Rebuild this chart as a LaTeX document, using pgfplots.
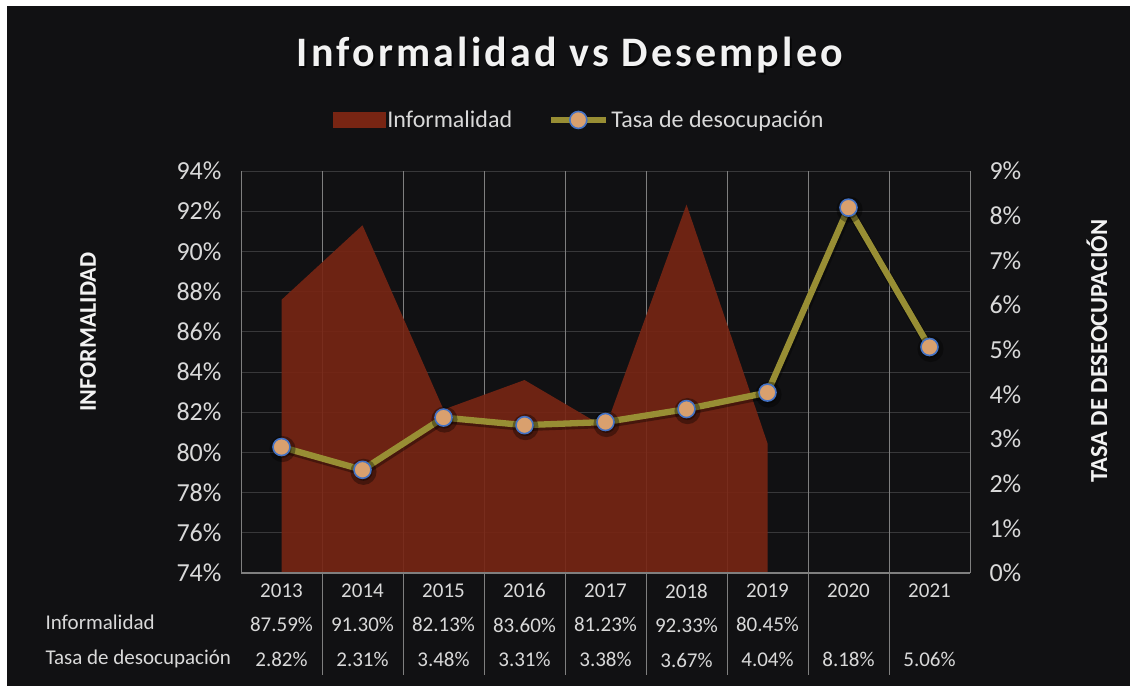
\documentclass[border=0pt]{standalone}
\usepackage{pgfplots}
\pgfplotsset{compat=1.18}
\usepackage{fontspec}
\setmainfont{Carlito}
\newfontfamily\titlefont[LetterSpace=7.5]{Carlito}
\definecolor{bg}{HTML}{111113}
\definecolor{areac}{HTML}{782513}
\definecolor{linec}{HTML}{988E34}
\definecolor{markf}{HTML}{D9A06E}
\definecolor{markd}{HTML}{4472C4}
\definecolor{gridh}{HTML}{38383A}
\definecolor{gridv}{HTML}{7F7F7F}
\definecolor{tickc}{HTML}{D9D9D9}
\definecolor{titlec}{HTML}{F2F2F2}
\pgfplotsset{
  marklegend/.style={legend image code/.code={%
    \draw[##1, mark=none] (0pt,0pt) -- (55pt,0pt);
    \draw[##1] plot coordinates {(27.5pt,0pt)};}},
  arealegend/.style={legend image code/.code={%
    \fill[areac] (0pt,-7.5pt) rectangle (52pt,7.5pt);}},
}
\begin{document}
\begin{tikzpicture}[x=1pt,y=1pt]
\fill[white] (0,0) rectangle (1130,686);
\fill[bg] (7,0) rectangle (1130,680);
\useasboundingbox (0,0) rectangle (1130,686);
\node[anchor=base, text=black, opacity=0.6, font=\titlefont\bfseries\fontsize{42}{50}\selectfont] at (571.5,617.5) {Informalidad vs Desempleo};
\node[anchor=base, text=titlec, font=\titlefont\bfseries\fontsize{42}{50}\selectfont] at (570,619) {Informalidad vs Desempleo};
\begin{axis}[
  at={(241pt,113pt)}, anchor=south west,
  scale only axis, width=729pt, height=402pt,
  xmin=-0.5, xmax=8.5, ymin=74, ymax=94,
  ytick={74,76,...,94},
  yticklabel={\pgfmathprintnumber{\tick}\%},
  /pgf/number format/assume math mode=true,
  xtick={0,...,8},
  xticklabels={{2013\\87.59\%\\2.82\%},{2014\\91.30\%\\2.31\%},{2015\\82.13\%\\3.48\%},{2016\\83.60\%\\3.31\%},{2017\\81.23\%\\3.38\%},{2018\\92.33\%\\3.67\%},{2019\\80.45\%\\4.04\%},{2020\\\strut\\8.18\%},{2021\\\strut\\5.06\%}},
  axis line style={draw=none},
  major tick length=0pt,
  ymajorgrids, grid style={color=gridh, line width=0.8pt},
  tick label style={text=tickc},
  yticklabel style={font=\fontsize{26}{30}\selectfont, xshift=-16pt},
  xticklabel style={font=\fontsize{21}{34.5}\selectfont, align=center, anchor=north, inner sep=0pt, yshift=-10.5pt},
  ylabel={INFORMALIDAD},
  ylabel style={font=\bfseries\fontsize{24}{28}\selectfont, text=titlec},
  every axis y label/.append style={at={(rel axis cs:-0.2099,0.5995)}, anchor=center},
]
\draw[gridv, line width=1pt] (axis cs:0.5,74) -- (axis cs:0.5,94);
\draw[gridv, line width=1pt] (axis cs:1.5,74) -- (axis cs:1.5,94);
\draw[gridv, line width=1pt] (axis cs:2.5,74) -- (axis cs:2.5,94);
\draw[gridv, line width=1pt] (axis cs:3.5,74) -- (axis cs:3.5,94);
\draw[gridv, line width=1pt] (axis cs:4.5,74) -- (axis cs:4.5,94);
\draw[gridv, line width=1pt] (axis cs:5.5,74) -- (axis cs:5.5,94);
\draw[gridv, line width=1pt] (axis cs:6.5,74) -- (axis cs:6.5,94);
\draw[gridv, line width=1pt] (axis cs:7.5,74) -- (axis cs:7.5,94);
\addplot[fill=areac, fill opacity=0.9, draw=none] coordinates {
(0,87.59) (1,91.30) (2,82.13) (3,83.60) (4,81.23) (5,92.33) (6,80.45)
} \closedcycle;
\end{axis}
\begin{axis}[
  at={(241pt,113pt)}, anchor=south west,
  scale only axis, width=729pt, height=402pt,
  xmin=-0.5, xmax=8.5, ymin=0, ymax=9,
  clip=false,
  hide x axis,
  axis y line*=right,
  axis line style={draw=none},
  major tick length=0pt,
  ytick={0,...,9},
  yticklabel={\pgfmathprintnumber{\tick}\%},
  /pgf/number format/assume math mode=true,
  yticklabel style={font=\fontsize{26}{30}\selectfont, text=tickc, xshift=16pt},
  ylabel={TASA DE DESEOCUPACIÓN},
  ylabel style={font=\bfseries\fontsize{24.5}{28}\selectfont, text=titlec},
  every axis y label/.append style={at={(rel axis cs:1.1742,0.552)}, anchor=center},
  legend style={at={(0.464,1.127)}, anchor=center, draw=none, fill=none, text=tickc,
    font=\fontsize{24}{28}\selectfont, legend columns=2,
    /tikz/every even column/.append style={column sep=33pt},
    nodes={inner xsep=2.5pt}},
  legend cell align=left,
]
\draw[gridv, line width=1pt] (axis cs:-0.5,0) -- (axis cs:-0.5,9);
\draw[gridv, line width=1pt] (axis cs:8.5,0) -- (axis cs:8.5,9);
\draw[gridv, line width=1.2pt] (axis cs:-0.5,0) -- (axis cs:8.5,0);
\draw[gridv, line width=1pt] (axis cs:0.5,0) -- (axis cs:0.5,-2.28);
\draw[gridv, line width=1pt] (axis cs:1.5,0) -- (axis cs:1.5,-2.28);
\draw[gridv, line width=1pt] (axis cs:2.5,0) -- (axis cs:2.5,-2.28);
\draw[gridv, line width=1pt] (axis cs:3.5,0) -- (axis cs:3.5,-2.28);
\draw[gridv, line width=1pt] (axis cs:4.5,0) -- (axis cs:4.5,-2.28);
\draw[gridv, line width=1pt] (axis cs:5.5,0) -- (axis cs:5.5,-2.28);
\draw[gridv, line width=1pt] (axis cs:6.5,0) -- (axis cs:6.5,-2.28);
\draw[gridv, line width=1pt] (axis cs:7.5,0) -- (axis cs:7.5,-2.28);
\node[anchor=base west, text=tickc, font=\fontsize{21}{24}\selectfont, yshift=-56.5pt] at (rel axis cs:-0.2730,0) {Informalidad};
\node[anchor=base west, text=tickc, font=\fontsize{21}{24}\selectfont, yshift=-91.5pt] at (rel axis cs:-0.2730,0) {Tasa de desocupación};
\addlegendimage{arealegend}
\addlegendentry{Informalidad}
\addplot[black, opacity=0.35, line width=8pt, xshift=1pt, yshift=-2pt, mark=*, mark size=9pt, mark options={fill=black, draw=black}, forget plot] coordinates {
(0,2.82) (1,2.31) (2,3.48) (3,3.31) (4,3.38) (5,3.67) (6,4.04) (7,8.18) (8,5.06)
};
\addplot[linec, line width=6.3pt, mark=*, mark size=8.5pt, mark options={fill=markf, draw=markd, line width=1.6pt}, marklegend] coordinates {
(0,2.82) (1,2.31) (2,3.48) (3,3.31) (4,3.38) (5,3.67) (6,4.04) (7,8.18) (8,5.06)
};
\addlegendentry{Tasa de desocupación}
\end{axis}
\end{tikzpicture}
\end{document}
